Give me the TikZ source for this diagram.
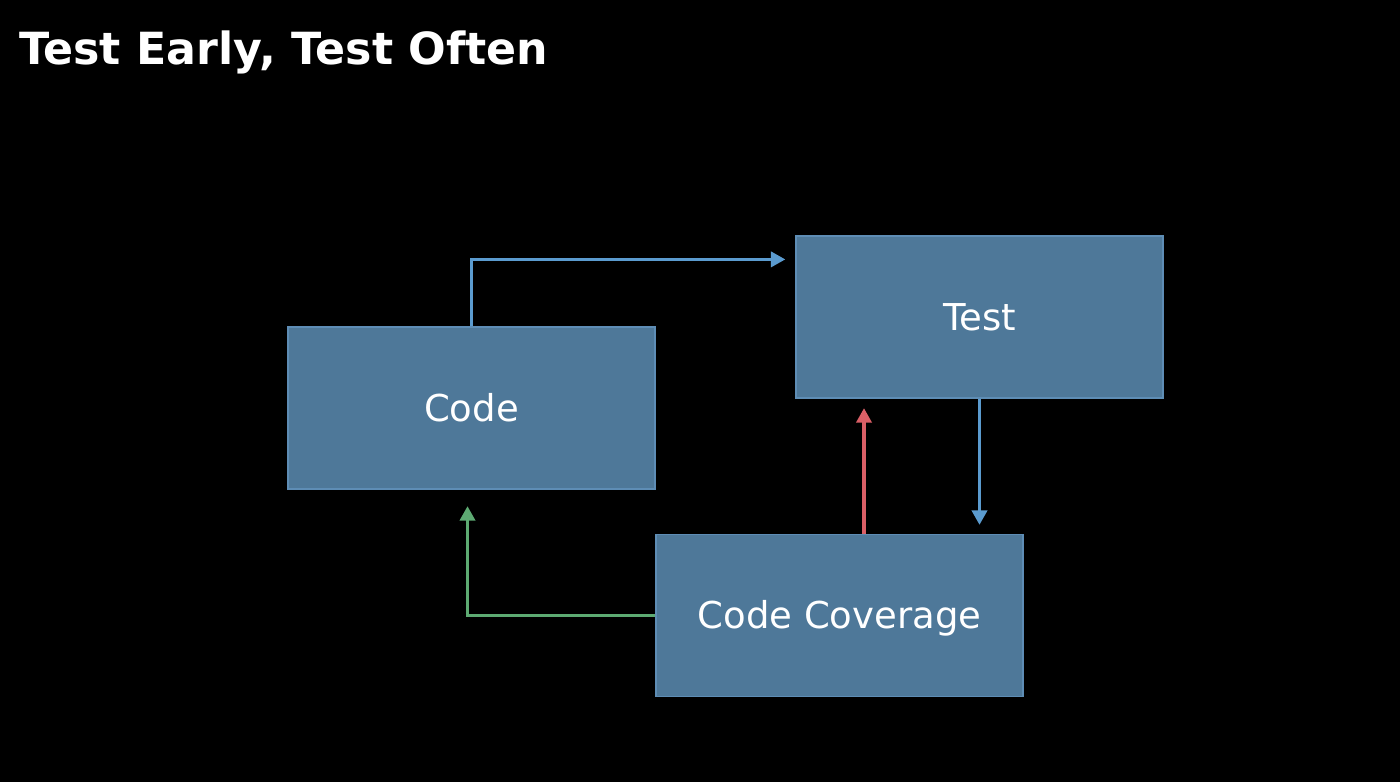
\documentclass[tikz,border=0pt]{standalone}
\usepackage{fontspec}
\setmainfont{DejaVu Sans}
\usetikzlibrary{arrows.meta,calc}
\definecolor{boxfill}{HTML}{4E7899}
\definecolor{boxline}{HTML}{5E8DB5}
\definecolor{arrblue}{HTML}{5B9BCF}
\definecolor{arrred}{HTML}{DA5F66}
\definecolor{arrgreen}{HTML}{5DAA72}
\tikzset{
  stagebox/.style={draw=boxline, line width=1.2pt, fill=boxfill, minimum width=367pt, minimum height=162pt,
    inner sep=0pt, text=white, font=\fontsize{37}{40}\selectfont, text height=26.5pt, text depth=0pt, anchor=center},
  conn/.style={line width=3.8pt, -{Triangle[length=14.5pt,width=15pt]}},
}
\begin{document}
\begin{tikzpicture}[x=1pt,y=-1pt]
\fill[black] (0,0) rectangle (1400,782);
\useasboundingbox (0,0) rectangle (1400,782);
\node[anchor=base west, text=white, font=\bfseries\fontsize{44.3}{48}\selectfont, inner sep=0pt] (title) at (19,64) {Test Early, Test Often};
\node[stagebox] (Code) at (471.5,408) {Code};
\node[stagebox] (Test) at (979.5,317) {Test};
\node[stagebox] (CC) at (839.5,615.5) {Code Coverage};
\draw[conn, arrblue] (Code.north) |- ($(Test.north west)+(-10,24)$);
\draw[conn, arrblue, shorten >=9pt] (Test.south) -- (Test.south |- CC.north);
\draw[conn, arrred, shorten >=9.5pt] ([xshift=24.5pt]CC.north) -- ([xshift=24.5pt]CC.north |- Test.south);
\draw[conn, arrgreen, shorten >=16.5pt] (CC.west) -| ([xshift=-4pt]Code.south);
\end{tikzpicture}
\end{document}
